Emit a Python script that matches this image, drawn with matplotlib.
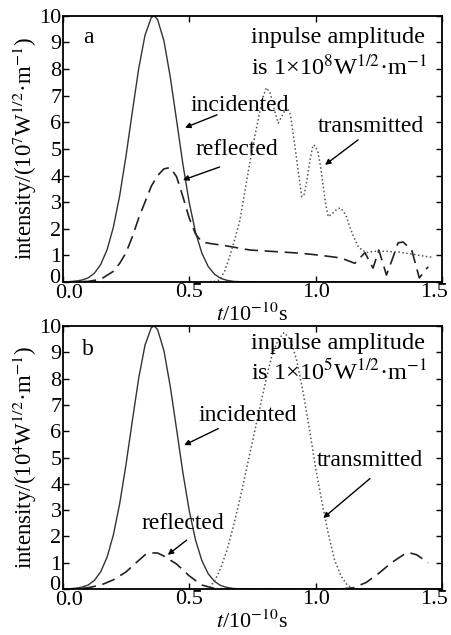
import matplotlib
matplotlib.use("Agg")
import matplotlib.pyplot as plt
from matplotlib.transforms import ScaledTranslation

plt.rcParams["font.family"] = ["Liberation Serif", "DejaVu Serif"]
plt.rcParams["mathtext.fontset"] = "stix"

# ---- panel a (1e8 amplitude) ----
t_inc = [0.0, 0.025, 0.05, 0.075, 0.1, 0.125, 0.15, 0.175, 0.2, 0.225, 0.25, 0.275,
         0.3, 0.325, 0.35, 0.362, 0.375, 0.4, 0.425, 0.45, 0.475, 0.5, 0.525, 0.55, 0.575,
         0.6, 0.625, 0.65, 0.675, 0.7, 0.8, 1.0, 1.5]
a_inc = [0.0, 0.01, 0.03, 0.07, 0.15, 0.33, 0.66, 1.21, 2.06, 3.25, 4.74, 6.40,
         8.01, 9.27, 9.94, 10.0, 9.86, 9.06, 7.70, 6.07, 4.42, 2.98, 1.86, 1.08, 0.58,
         0.29, 0.13, 0.06, 0.02, 0.01, 0.0, 0.0, 0.0]

a_t_ref = [0.0, 0.1, 0.15, 0.2, 0.225, 0.25, 0.275, 0.3, 0.325, 0.35, 0.375, 0.4,
           0.425, 0.45, 0.475, 0.5, 0.525, 0.55, 0.58, 0.65, 0.74, 0.84, 0.94,
           1.02, 1.1, 1.155, 1.175, 1.195, 1.227, 1.25, 1.28, 1.305, 1.326,
           1.346, 1.38, 1.41, 1.445]
a_ref = [0.0, 0.02, 0.1, 0.4, 0.7, 1.1, 1.7, 2.4, 3.0, 3.6, 4.0, 4.25,
         4.3, 3.95, 3.2, 2.4, 1.8, 1.5, 1.45, 1.35, 1.2, 1.14, 1.08,
         1.0, 0.9, 0.7, 0.9, 1.1, 0.52, 1.2, 0.26, 0.9, 1.47,
         1.5, 1.2, 0.15, 0.57]

a_t_tra = [0.0, 0.55, 0.6, 0.62, 0.64, 0.66, 0.68, 0.7, 0.72, 0.74, 0.76, 0.773,
           0.79, 0.805, 0.82, 0.84, 0.852, 0.87, 0.886, 0.9, 0.918, 0.932, 0.945,
           0.955, 0.965, 0.978, 0.99, 1.0, 1.01, 1.02, 1.03, 1.04, 1.05, 1.07,
           1.085, 1.1, 1.12, 1.135, 1.15, 1.17, 1.2, 1.23, 1.28, 1.33, 1.38,
           1.44, 1.46]
a_tra = [0.0, 0.0, 0.02, 0.07, 0.4, 0.95, 1.6, 2.3, 3.4, 4.5, 5.5, 6.1,
         6.9, 7.3, 7.1, 6.35, 5.97, 6.3, 6.55, 6.3, 5.1, 4.1, 3.2,
         3.3, 3.8, 4.6, 5.15, 5.1, 4.85, 4.3, 3.6, 2.9, 2.45, 2.6,
         2.75, 2.78, 2.5, 2.07, 1.7, 1.3, 1.1, 1.15, 1.15, 1.12, 1.05,
         0.95, 0.93]

# ---- panel b (1e5 amplitude) ----
b_t_ref = [0.0, 0.05, 0.1, 0.15, 0.2, 0.25, 0.29, 0.325, 0.35, 0.375, 0.4, 0.45,
           0.5, 0.55, 0.6, 0.65, 1.1, 1.15, 1.2, 1.25, 1.3, 1.35, 1.37, 1.4,
           1.445]
b_ref = [0.0, 0.0, 0.05, 0.15, 0.35, 0.65, 1.0, 1.3, 1.37, 1.37, 1.25, 0.95,
         0.5, 0.15, 0.02, 0.0, 0.0, 0.05, 0.25, 0.6, 1.0, 1.32, 1.38, 1.3,
         1.0]

b_t_tra = [0.0, 0.55, 0.575, 0.6, 0.625, 0.65, 0.675, 0.7, 0.725, 0.75, 0.775,
           0.8, 0.825, 0.85, 0.875, 0.9, 0.925, 0.95, 0.975, 1.0, 1.025, 1.05,
           1.075, 1.1, 1.125, 1.15, 1.5]
b_tra = [0.0, 0.0, 0.02, 0.3, 0.8, 1.5, 2.4, 3.4, 4.5, 5.6, 6.7,
         7.8, 8.8, 9.45, 9.75, 9.5, 8.7, 7.5, 6.1, 4.6, 3.3, 2.1,
         1.1, 0.5, 0.15, 0.0, 0.0]

x_ticks = [0.0, 0.5, 1.0, 1.5]
x_labels = ["0.0", "0.5", "1.0", "1.5"]

panels = [
    dict(ref_t=a_t_ref, ref=a_ref, tra_t=a_t_tra, tra=a_tra, tag="a", exp="8", unit="7",
         notes=[("incidented", (0.70, 6.65), (0.61, 6.28), (0.483, 5.8)),
                ("reflected", (0.69, 4.96), (0.62, 4.32), (0.475, 3.83)),
                ("transmitted", (1.22, 5.83), (1.168, 5.34), (1.037, 4.4))],
         txt_y=(9.2, 8.05), tag_y=9.17),
    dict(ref_t=b_t_ref, ref=b_ref, tra_t=b_t_tra, tra=b_tra, tag="b", exp="5", unit="4",
         notes=[("incidented", (0.73, 6.6), (0.615, 6.1), (0.48, 5.47)),
                ("reflected", (0.475, 2.5), (0.49, 1.86), (0.415, 1.3)),
                ("transmitted", (1.215, 4.9), (1.215, 4.2), (1.03, 2.7))],
         txt_y=(9.35, 8.25), tag_y=9.1),
]

fig = plt.figure(figsize=(4.52, 6.35), dpi=100)
rects = [[0.139, 0.556, 0.839, 0.419], [0.139, 0.0724, 0.839, 0.4142]]

def nudge(label, dx, dy):
    label.set_transform(label.get_transform() + ScaledTranslation(dx / 100, dy / 100, fig.dpi_scale_trans))

for rect, p in zip(rects, panels):
    ax = fig.add_axes(rect)
    ax.plot(t_inc, a_inc, color="#333333", lw=1.0)
    ax.plot(p["ref_t"], p["ref"], color="#222222", lw=1.2, dashes=(8, 4))
    ax.plot(p["tra_t"], p["tra"], color="#555555", lw=1.1, dashes=(1, 1.6))

    ax.set_xlim(0, 1.5)
    ax.set_ylim(0, 10)
    ax.set_xticks(x_ticks)
    ax.set_xticklabels(x_labels)
    ax.set_yticks(range(0, 11))
    ax.tick_params(direction="in", top=True, right=True, length=4, width=1,
                   labelsize=16, pad=1)
    # nudge the outer tick labels a bit, like the original
    xl = ax.get_xticklabels()
    nudge(xl[0], 6, -1)
    nudge(xl[-1], -8, 0)
    nudge(ax.get_yticklabels()[0], -1, 6)
    for s in ax.spines.values():
        s.set_linewidth(1.3)

    ax.set_xlabel("$t$/10$^{-10}$s", fontsize=16, labelpad=0)
    ax.set_ylabel("intensity/(10$^{%s}$W$^{1/2}$·m$^{-1}$)" % p["unit"],
                  fontsize=16.5, labelpad=0)

    ax.text(0.1, p["tag_y"], p["tag"], fontsize=17, ha="center", va="center")
    ax.text(0.745, p["txt_y"][0], "inpulse amplitude", fontsize=17.5,
            ha="left", va="center")
    ax.text(0.745, p["txt_y"][1], "is 1×10$^{%s}$W$^{1/2}$·m$^{-1}$" % p["exp"],
            fontsize=17.5, ha="left", va="center")

    for label, tpos, start, end in p["notes"]:
        ax.text(tpos[0], tpos[1], label, fontsize=17, ha="center", va="center")
        ax.annotate("", xy=end, xytext=start,
                    arrowprops=dict(arrowstyle="-|>", lw=1.0, color="black",
                                    mutation_scale=8, shrinkA=0, shrinkB=0))

fig.savefig("out.png", dpi=100)
